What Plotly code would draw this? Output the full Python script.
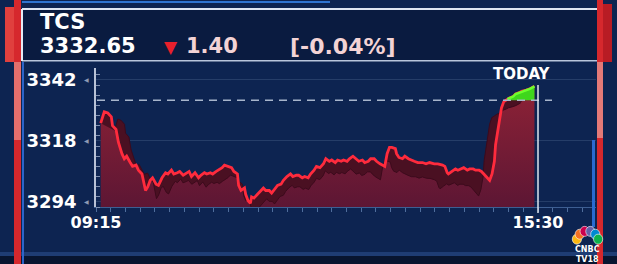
import plotly.graph_objects as go
from datetime import datetime, timedelta
import math

# ---------------- data ----------------
stock_name = "TCS"
last_price = "3332.65"
change_abs = "1.40"
change_pct = "[-0.04%]"
prev_close = 3334.05

times = ["09:19", "09:22", "09:25", "09:28", "09:29", "09:32", "09:34", "09:35", "09:37", "09:39",
         "09:41", "09:44", "09:46", "09:49", "09:51", "09:54", "09:56", "09:57", "09:59", "10:01",
         "10:03", "10:06", "10:08", "10:11", "10:14", "10:16", "10:19", "10:21", "10:24", "10:26",
         "10:29", "10:31", "10:34", "10:36", "10:39", "10:42", "10:44", "10:47", "10:49", "10:52",
         "10:54", "10:57", "10:59", "11:02", "11:04", "11:07", "11:10", "11:12", "11:15", "11:16",
         "11:18", "11:21", "11:22", "11:24", "11:26", "11:27", "11:29", "11:32", "11:34", "11:37",
         "11:39", "11:42", "11:44", "11:47", "11:49", "11:52", "11:54", "11:57", "12:00", "12:02",
         "12:05", "12:07", "12:10", "12:12", "12:15", "12:17", "12:20", "12:22", "12:25", "12:28",
         "12:30", "12:33", "12:35", "12:38", "12:40", "12:43", "12:45", "12:48", "12:50", "12:53",
         "12:56", "12:58", "13:01", "13:03", "13:06", "13:08", "13:11", "13:13", "13:16", "13:18",
         "13:20", "13:22", "13:24", "13:26", "13:29", "13:30", "13:32", "13:35", "13:37", "13:40",
         "13:42", "13:45", "13:48", "13:52", "13:55", "13:58", "14:02", "14:05", "14:09", "14:11",
         "14:13", "14:14", "14:17", "14:20", "14:22", "14:25", "14:27", "14:30", "14:32", "14:35",
         "14:37", "14:40", "14:42", "14:45", "14:48", "14:49", "14:51", "14:53", "14:54", "14:56",
         "14:58", "14:59", "15:01", "15:04", "15:06", "15:09", "15:11", "15:14", "15:16", "15:20",
         "15:23", "15:27"]
prices = [3325.0, 3329.5, 3329.0, 3327.5, 3324.0, 3322.5, 3317.5, 3316.0, 3313.0, 3311.0,
          3312.0, 3309.5, 3308.0, 3308.5, 3306.5, 3305.0, 3301.0, 3298.5, 3300.0, 3302.5,
          3303.5, 3301.0, 3300.5, 3303.5, 3305.5, 3305.0, 3306.5, 3305.0, 3305.5, 3306.0,
          3304.5, 3305.0, 3306.0, 3304.0, 3305.5, 3303.5, 3304.5, 3305.5, 3305.0, 3305.5,
          3305.0, 3306.0, 3306.5, 3307.5, 3308.5, 3308.0, 3307.5, 3306.0, 3305.0, 3300.5,
          3298.5, 3299.5, 3297.0, 3294.5, 3293.5, 3296.0, 3295.5, 3297.0, 3298.0, 3299.5,
          3298.5, 3298.5, 3297.5, 3299.5, 3300.5, 3301.0, 3302.5, 3304.0, 3305.0, 3304.0,
          3304.5, 3304.5, 3303.5, 3304.0, 3303.5, 3305.0, 3306.5, 3308.0, 3307.5, 3309.0,
          3311.0, 3310.0, 3310.5, 3309.5, 3310.5, 3310.0, 3310.5, 3310.0, 3311.0, 3312.0,
          3311.0, 3310.0, 3310.5, 3309.5, 3310.0, 3311.0, 3311.0, 3310.0, 3309.0, 3308.5,
          3308.0, 3313.0, 3315.5, 3315.5, 3315.0, 3313.0, 3311.5, 3311.0, 3312.0, 3311.0,
          3310.5, 3310.0, 3309.5, 3309.5, 3309.0, 3309.5, 3309.0, 3309.0, 3308.5, 3308.0,
          3305.5, 3305.0, 3306.0, 3307.0, 3306.5, 3307.0, 3307.5, 3306.5, 3307.0, 3307.0,
          3306.5, 3306.5, 3306.0, 3304.5, 3303.0, 3302.5, 3305.0, 3310.0, 3316.5, 3322.0,
          3327.0, 3331.0, 3333.5, 3334.5, 3335.0, 3335.5, 3336.5, 3337.0, 3337.5, 3338.0,
          3338.5, 3339.5]

y_ticks = [3294, 3318, 3342]
x_tick_labels = ["09:15", "15:30"]
today_label = "TODAY"
logo_text = "CNBC<br>TV18"

# ---------------- helpers ----------------
W, H = 617, 264
DAY = "2024-01-01 "
def px(x):
    return x / W
def py(y):
    return 1 - y / H

dts = [datetime.strptime(DAY + t, "%Y-%m-%d %H:%M") for t in times]
open_dt = datetime.strptime(DAY + x_tick_labels[0], "%Y-%m-%d %H:%M")
close_dt = datetime.strptime(DAY + x_tick_labels[1], "%Y-%m-%d %H:%M")
session_min = (close_dt - open_dt).total_seconds() / 60

# 3D extrusion ("ribbon") of the line: a shifted copy of the same series
sh_x, sh_y = [], []
for d, v in zip(dts, prices):
    frac = (d - open_dt).total_seconds() / 60 / session_min
    sh_x.append(d + timedelta(minutes=12 - 24 * frac))
    sh_y.append(v - (2.8 + 3.8 * frac))

green_idx = [i for i, v in enumerate(prices) if v >= prev_close]
gx = [dts[i] for i in green_idx]
gy = [prices[i] for i in green_idx]

FONT = "DejaVu Sans"
fig = go.Figure()

# main area fill
fig.add_trace(go.Scatter(
    x=dts, y=prices, mode="lines", line=dict(width=0),
    fill="tozeroy",
    fillgradient=dict(type="vertical", start=3292, stop=3340,
                      colorscale=[[0, "#5c1634"], [1, "#8e2236"]]),
    hoverinfo="skip", showlegend=False))
# invisible base for the ribbon
fig.add_trace(go.Scatter(x=dts, y=prices, mode="lines", line=dict(width=0),
                         hoverinfo="skip", showlegend=False))
# ribbon / extruded side
fig.add_trace(go.Scatter(x=sh_x, y=sh_y, mode="lines",
                         line=dict(width=1, color="#3c0a1c"),
                         fill="tonexty", fillcolor="#4a1022",
                         hoverinfo="skip", showlegend=False))
# bright line
fig.add_trace(go.Scatter(x=dts, y=prices, mode="lines",
                         line=dict(width=2.8, color="#ff2b3d"),
                         hoverinfo="skip", showlegend=False))
# green part above previous close
fig.add_trace(go.Scatter(x=gx, y=[prev_close] * len(gx), mode="lines",
                         line=dict(width=0), hoverinfo="skip", showlegend=False))
fig.add_trace(go.Scatter(x=gx, y=gy, mode="lines",
                         line=dict(width=2.5, color="#6dff2e"),
                         fill="tonexty", fillcolor="#3fd61c",
                         hoverinfo="skip", showlegend=False))

x_end = open_dt + timedelta(minutes=(596 - 96) / 442 * session_min)

shapes = []
def rect(x0, y0, x1, y1, color, layer="above"):
    shapes.append(dict(type="rect", xref="paper", yref="paper",
                       x0=px(x0), x1=px(x1), y0=py(y1), y1=py(y0),
                       fillcolor=color, line=dict(width=0), layer=layer))

# background pieces
rect(22, 9, 597, 61, "#0a1b40", layer="below")
rect(0, 252, 617, 256, "#1f3d74", layer="below")
rect(0, 256, 617, 264, "#081530", layer="below")
# header lines
rect(22, 1, 330, 3, "#2f74d0")
rect(22, 8, 597, 10, "#dde5f2")
rect(22, 60, 597, 61.5, "#b9c6dc")
rect(21, 9, 23, 61, "#e6ecf6")
# left bars
rect(5, 7, 14, 62, "#e0403e")
rect(14, 0, 21, 264, "#d6282d")
rect(14, 62, 21, 140, "#e46f6c")
rect(22, 62, 24, 264, "#2c64c8")
# right bars
rect(597, 0, 603, 264, "#d6282d")
rect(597, 62, 603, 138, "#e47a78")
rect(603, 4, 612, 62, "#b81c24")
rect(592, 140, 595, 227, "#2a6ad0")

# previous close dashed line
shapes.append(dict(type="line", xref="paper", yref="y", x0=px(97), x1=px(552),
                   y0=prev_close, y1=prev_close,
                   line=dict(color="#a8b6cc", width=1.5, dash="8px,6px")))
# today marker
shapes.append(dict(type="line", xref="x", yref="paper", x0=close_dt, x1=close_dt,
                   y0=py(213), y1=py(85), line=dict(color="#dfe4ee", width=1.5)))

# CNBC peacock
feathers = ["#fcb711", "#f37021", "#cc004c", "#6460aa", "#0089d0", "#0db14b"]
for k, c in enumerate(feathers):
    ang = math.radians(165 - 30 * k)
    cx, cy = 587.5 + 11 * math.cos(ang), 242 - 11 * math.sin(ang)
    shapes.append(dict(type="circle", xref="paper", yref="paper",
                       x0=px(cx - 4.6), x1=px(cx + 4.6), y0=py(cy + 5), y1=py(cy - 5),
                       fillcolor=c, line=dict(width=0.6, color="white"), layer="above"))

annotations = [
    dict(text=stock_name, x=px(38), y=py(22), xanchor="left", yanchor="middle",
         font=dict(family=FONT, size=21, color="white", weight="bold")),
    dict(text=last_price, x=px(38), y=py(46), xanchor="left", yanchor="middle",
         font=dict(family=FONT, size=21, color="white", weight="bold")),
    dict(text="▼", x=px(171), y=py(47), xanchor="center", yanchor="middle",
         font=dict(family=FONT, size=17, color="#e8202c")),
    dict(text=change_abs, x=px(184), y=py(46), xanchor="left", yanchor="middle",
         font=dict(family=FONT, size=21, color="#f3d3d5", weight="bold")),
    dict(text=change_pct, x=px(343), y=py(46), xanchor="center", yanchor="middle",
         font=dict(family=FONT, size=22, color="#f3d3d5", weight="bold")),
    dict(text=today_label, x=px(522), y=py(74), xanchor="center", yanchor="middle",
         font=dict(family=FONT, size=15, color="white", weight="bold")),
    dict(text=logo_text, x=px(587.5), y=py(254.5), xanchor="center", yanchor="middle",
         font=dict(family=FONT, size=8, color="white", weight="bold")),
]
for v in y_ticks:
    annotations.append(dict(text="◀", x=px(87), y=v, xref="paper", yref="y",
                            xanchor="center", yanchor="middle",
                            font=dict(family=FONT, size=6, color="#8d9bb5")))
for a in annotations:
    a.setdefault("xref", "paper")
    a.setdefault("yref", "paper")
    a["showarrow"] = False

fig.update_layout(
    width=W, height=H, margin=dict(l=0, r=0, t=0, b=0, autoexpand=False),
    paper_bgcolor="#0d2451", plot_bgcolor="rgba(0,0,0,0)",
    showlegend=False, shapes=shapes, annotations=annotations,
    xaxis=dict(type="date", domain=[px(96), px(596)], range=[open_dt, x_end],
               automargin=False,
               tickvals=[open_dt, close_dt], ticktext=x_tick_labels,
               tickfont=dict(family=FONT, size=16, color="white", weight="bold"),
               ticks="", ticklabelstandoff=1, showgrid=False, zeroline=False,
               showline=True, linecolor="#3d5e92", linewidth=1,
               minor=dict(ticks="outside", ticklen=4, tickcolor="#4f6d9c",
                          dtick=12.5 * 60 * 1000, tick0=open_dt, showgrid=False)),
    yaxis=dict(domain=[py(207), py(68)], range=[3292, 3346.72],
               automargin=False,
               tickvals=y_ticks,
               tickfont=dict(family=FONT, size=18, color="white", weight="bold"),
               ticks="", ticklabelstandoff=14, showgrid=True,
               gridcolor="rgba(170,190,225,0.16)", gridwidth=1, zeroline=False,
               showline=True, linecolor="#b8c2d6", linewidth=1.5,
               minor=dict(ticks="inside", ticklen=4, tickcolor="#7f90b0",
                          dtick=4, showgrid=False)),
)

fig.write_html("out.html")
